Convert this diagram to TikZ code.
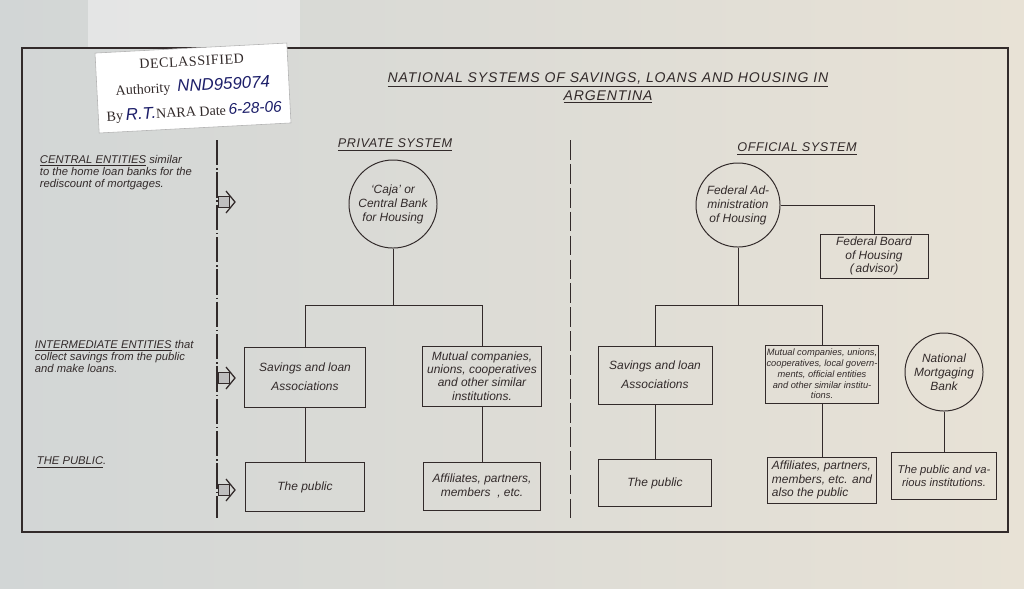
\documentclass[tikz,border=0pt]{standalone}
\usepackage{fontspec}
\setsansfont{Liberation Sans}
\newfontfamily\stampfont{Liberation Serif}
\usetikzlibrary{shapes,arrows,positioning,calc}
\definecolor{ink}{RGB}{50,42,42}
\definecolor{paper}{RGB}{232,226,214}
\definecolor{paperblue}{RGB}{210,214,214}
\definecolor{pen}{RGB}{28,30,105}
\newcommand{\hand}{\sffamily\itshape}
\newcommand{\handsize}[2]{\fontsize{#1}{#2}\selectfont}

\begin{document}
\begin{tikzpicture}[x=0.025cm, y=-0.025cm,
    box/.style={rectangle, draw=ink, line width=0.7pt, align=center, font=\hand\handsize{8.5}{9.5}, text=ink, inner sep=1pt},
    disc/.style={circle, draw=ink, line width=0.7pt, align=center, font=\hand\handsize{8.5}{10}, text=ink, inner sep=0pt},
    wire/.style={draw=ink, line width=0.7pt},
    shaft/.style={fill=gray!50, draw=ink, line width=0.5pt},
    chevron/.style={draw=ink, line width=0.9pt},
    heading/.style={font=\hand\handsize{9}{10}\addfontfeature{LetterSpace=4}, text=ink},
    side/.style={anchor=north west, align=left, font=\hand\handsize{8}{8.6}, text=ink}
]
    % Paper and frame
    \useasboundingbox (0,0) rectangle (1024,588);
    \shade[left color=paperblue, right color=paper] (0,0) rectangle (1024,588);
    \fill[gray!15, opacity=0.7] (88,0) rectangle (300,48);
    \draw[ink, line width=0.8pt] (22,48) rectangle (1008,532);

    % Stamp
    \node[fill=white, draw=gray!60, rotate=3, minimum width=4.8cm, minimum height=2cm, align=center,
          font=\stampfont\handsize{10}{18}, text=ink, inner sep=2pt] (stamp) at (193,88)
        {{\addfontfeature{LetterSpace=4}DECLASSIFIED}\\
         Authority\,{\color{pen}\hand\handsize{12}{18} NND959074}\\
         By{\color{pen}\hand\handsize{12}{18}\,R.T.}NARA Date{\color{pen}\hand\handsize{11}{18}\,6-28-06}};

    % Title
    \node[align=center, text=ink, font=\hand\handsize{10}{13}\addfontfeature{LetterSpace=6}] (title) at (608,88)
        {\underline{NATIONAL SYSTEMS OF SAVINGS, LOANS AND HOUSING IN}\\ \underline{ARGENTINA}};

    % Dividers
    \draw[ink, line width=0.8pt, dash pattern=on 18pt off 2pt on 1pt off 2pt] (217,140) -- (217,518);
    \draw[ink, line width=0.7pt, dash pattern=on 14pt off 3pt] (570,140) -- (570,518);

    % Levels on the left
    \node[side] (lcentral) at (35,150) {\underline{CENTRAL ENTITIES} similar\\ to the home loan banks for the\\ rediscount of mortgages.};
    \node[side] (linter) at (30,335) {\underline{INTERMEDIATE ENTITIES} that\\ collect savings from the public\\ and make loans.};
    \node[side] (lpublic) at (32,452) {\underline{THE PUBLIC}.};
    \foreach \ay/\an in {202/a1, 378/a2, 490/a3} {
        \coordinate (\an) at (218,\ay);
        \draw[shaft] ($(\an)+(0,-5.5)$) rectangle ($(\an)+(11,5.5)$);
        \draw[chevron] ($(\an)+(8,-11)$) -- ($(\an)+(17,0)$) -- ($(\an)+(8,11)$);
    }

    % Private system
    \node[heading] (private) at (395,145) {\underline{PRIVATE SYSTEM}};
    \node[disc, minimum size=2.2cm] (caja) at (393,204) {`Caja' or\\ Central Bank\\ for Housing};
    \node[box, minimum width=3cm, minimum height=1.5cm] (psav) at (305,377) {Savings and loan\\[4pt] Associations};
    \node[box, minimum width=2.95cm, minimum height=1.5cm] (pmut) at (482,376) {Mutual companies,\\ unions, cooperatives\\ and other similar\\ institutions.};
    \node[box, minimum width=2.95cm, minimum height=1.22cm] (ppub) at (305,487) {The public};
    \node[box, minimum width=2.92cm, minimum height=1.2cm] (paff) at (482,486) {Affiliates, partners,\\ members\ \ , etc.};
    \coordinate (pjoin) at (393,305);
    \draw[wire] (caja.south) -- (pjoin);
    \draw[wire] (psav.north) |- (pjoin) -| (pmut.north);
    \draw[wire] (psav) -- (ppub);
    \draw[wire] (pmut) -- (paff);

    % Official system
    \node[heading] (official) at (797,149) {\underline{OFFICIAL SYSTEM}};
    \node[disc, minimum size=2.1cm] (fed) at (738,205) {Federal Ad-\\ ministration\\ of Housing};
    \node[box, minimum width=2.7cm, minimum height=1.1cm] (board) at (874,256) {Federal Board\\ of Housing\\ (\,advisor)};
    \node[box, minimum width=2.85cm, minimum height=1.45cm] (osav) at (655,375) {Savings and loan\\[4pt] Associations};
    \node[box, minimum width=2.72cm, minimum height=1.45cm, font=\hand\handsize{6.6}{7.6}] (omut) at (822,374)
        {Mutual companies, unions,\\ cooperatives, local govern-\\ ments, official entities\\ and other similar institu-\\ tions.};
    \node[box, minimum width=2.82cm, minimum height=1.18cm] (opub) at (655,483) {The public};
    \node[box, minimum width=2.72cm, minimum height=1.15cm, align=left] (oaff) at (822,480) {Affiliates, partners,\\ members, etc. and\\ also the public};
    \node[disc, minimum size=1.95cm] (nmb) at (944,372) {National\\ Mortgaging\\ Bank};
    \node[box, minimum width=2.62cm, minimum height=1.18cm, font=\hand\handsize{8}{9}] (nbpub) at (944,476) {The public and va-\\ rious institutions.};
    \coordinate (ojoin) at (738,305);
    \draw[wire] (fed.east) -| (board.north);
    \draw[wire] (fed.south) -- (ojoin);
    \draw[wire] (osav.north) |- (ojoin) -| (omut.north);
    \draw[wire] (osav) -- (opub);
    \draw[wire] (omut) -- (oaff);
    \draw[wire] (nmb) -- (nbpub);
\end{tikzpicture}
\end{document}
